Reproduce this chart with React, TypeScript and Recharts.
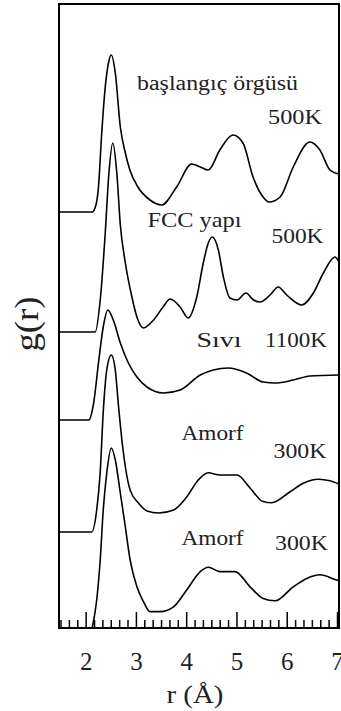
import React from "react";
import { LineChart, Line, XAxis, YAxis, ReferenceArea, ReferenceLine } from "recharts";

// x axis
const xDomain: [number, number] = [1.46, 7.03];
const majorTicks = [2, 3, 4, 5, 6, 7];
const minorTicks = [
  1.5, 1.667, 1.833, 2.167, 2.333, 2.5, 2.667, 2.833, 3.167, 3.333, 3.5, 3.667, 3.833,
  4.167, 4.333, 4.5, 4.667, 4.833, 5.167, 5.333, 5.5, 5.667, 5.833, 6.167, 6.333, 6.5,
  6.667, 6.833,
];
const yDomain: [number, number] = [0, 15.6];
// inward tick lengths in y units (1 unit = 40 px)
const majorTickLen = 0.4;
const minorTickLen = 0.2;

// curve 1: başlangıç örgüsü 500K
const baslangicR = [1.46, 2.12, 2.2, 2.245, 2.31, 2.38, 2.44, 2.5, 2.58, 2.68, 2.78, 2.87, 3.03, 3.27, 3.5, 3.8, 4.1, 4.27, 4.43, 4.66, 4.92, 5.12, 5.32, 5.52, 5.64, 5.86, 6.12, 6.45, 6.65, 6.85, 7.03];
const baslangicG = [0, 0, 0.2, 0.625, 1.975, 3.125, 3.7, 3.925, 3.475, 2.125, 1.475, 1.05, 0.625, 0.3, 0.175, 0.625, 1.2, 1.125, 1.05, 1.55, 1.925, 1.725, 0.875, 0.375, 0.25, 0.375, 1.125, 1.75, 1.55, 1.05, 0.95];

// curve 2: FCC yapı 500K
const fccR = [1.46, 2.18, 2.28, 2.38, 2.45, 2.53, 2.61, 2.68, 2.78, 2.91, 3.01, 3.14, 3.34, 3.53, 3.67, 3.87, 4.03, 4.2, 4.33, 4.43, 4.51, 4.63, 4.73, 4.86, 5.0, 5.18, 5.33, 5.46, 5.66, 5.82, 5.99, 6.29, 6.52, 6.72, 6.95, 7.03];
const fccG = [0, 0, 0.8, 2.475, 3.925, 4.725, 3.975, 2.675, 1.725, 0.875, 0.375, 0.1, 0.3, 0.625, 0.825, 0.625, 0.35, 0.875, 1.725, 2.225, 2.375, 2.05, 1.375, 0.85, 0.8, 0.975, 0.8, 0.75, 0.925, 1.125, 0.925, 0.675, 0.975, 1.475, 1.875, 1.75];

// curve 3: Sıvı 1100K
const siviR = [1.46, 2.05, 2.15, 2.245, 2.34, 2.43, 2.54, 2.68, 2.84, 3.01, 3.21, 3.54, 3.87, 4.27, 4.53, 4.83, 5.19, 5.52, 5.76, 6.12, 6.45, 7.03];
const siviG = [0, 0, 0.425, 1.425, 2.325, 2.75, 2.5, 1.925, 1.425, 1.075, 0.825, 0.675, 0.75, 1.125, 1.25, 1.3, 1.175, 0.95, 0.925, 1.0, 1.1, 1.125];

// curve 4: Amorf 300K (upper)
const amorf1R = [1.46, 2.11, 2.21, 2.28, 2.34, 2.41, 2.5, 2.58, 2.64, 2.72, 2.875, 3.04, 3.21, 3.44, 3.74, 4.0, 4.23, 4.43, 4.66, 5.0, 5.26, 5.52, 5.69, 6.05, 6.32, 6.62, 6.85, 7.03];
const amorf1G = [0, 0, 0.55, 1.5, 3.0, 4.05, 4.425, 4.05, 3.2, 2.2, 1.05, 0.725, 0.525, 0.475, 0.55, 0.875, 1.3, 1.48, 1.425, 1.425, 1.1, 0.76, 0.73, 1.0, 1.22, 1.32, 1.28, 1.2];

// curve 5: Amorf 300K (lower)
const amorf2R = [2.12, 2.21, 2.28, 2.34, 2.41, 2.5, 2.58, 2.68, 2.78, 2.875, 3.01, 3.14, 3.27, 3.47, 3.74, 4.0, 4.27, 4.43, 4.66, 4.96, 5.26, 5.52, 5.76, 6.12, 6.39, 6.65, 6.98, 7.03];
const amorf2G = [0, 0.7, 1.7, 2.95, 3.875, 4.5, 4.2, 3.375, 2.525, 1.7, 1.03, 0.66, 0.41, 0.41, 0.53, 0.95, 1.41, 1.52, 1.41, 1.41, 1.03, 0.74, 0.68, 1.03, 1.24, 1.33, 1.2, 1.18];

// vertical offsets of stacked curves
const offsets = [10.4, 7.4, 5.2, 2.4, 0];

const build = (r: number[], g: number[], off: number) =>
  r.map((x, i) => ({ r: x, y: g[i] + off }));

const series = [
  build(baslangicR, baslangicG, offsets[0]),
  build(fccR, fccG, offsets[1]),
  build(siviR, siviG, offsets[2]),
  build(amorf1R, amorf1G, offsets[3]),
  build(amorf2R, amorf2G, offsets[4]),
];

const FONT = "'Liberation Serif', 'Times New Roman', serif";

type Lbl = { t: string; cx: number; by: number; w: number; fs: number };
const labels: Lbl[] = [
  { t: "başlangıç örgüsü", cx: 217.5, by: 90, w: 161, fs: 20 },
  { t: "500K", cx: 295, by: 124, w: 54, fs: 21 },
  { t: "FCC yapı", cx: 194.5, by: 227, w: 94, fs: 21 },
  { t: "500K", cx: 297.5, by: 243, w: 52, fs: 21 },
  { t: "Sıvı", cx: 219, by: 347, w: 45, fs: 20 },
  { t: "1100K", cx: 296, by: 347, w: 62, fs: 21 },
  { t: "Amorf", cx: 212.5, by: 440, w: 62, fs: 21 },
  { t: "300K", cx: 300, by: 458, w: 53, fs: 21 },
  { t: "Amorf", cx: 212.5, by: 545, w: 62, fs: 21 },
  { t: "300K", cx: 301.5, by: 550, w: 53, fs: 21 },
];

const MainTick = (p: any) => (
  <text
    x={p.x}
    y={670}
    textAnchor="middle"
    fontFamily={FONT}
    fontSize={25}
    fill="#222"
  >
    {p.payload.value}
  </text>
);

export default function App() {
  return (
    <div style={{ position: "absolute", left: 0, top: 0, background: "#fff" }}>
      <LineChart
        width={341}
        height={711}
        margin={{ top: 4, right: 2, bottom: 43, left: 59 }}
      >
        <XAxis
          type="number"
          dataKey="r"
          domain={xDomain}
          allowDataOverflow
          ticks={majorTicks}
          interval={0}
          height={40}
          tickLine={false}
          axisLine={{ stroke: "#000", strokeWidth: 2 }}
          tick={<MainTick />}
        />
        <YAxis type="number" domain={yDomain} allowDataOverflow hide />
        <ReferenceArea
          x1={xDomain[0]}
          x2={xDomain[1]}
          y1={yDomain[0]}
          y2={yDomain[1]}
          fill="none"
          fillOpacity={0}
          stroke="#000"
          strokeWidth={2}
          ifOverflow="visible"
        />
        {minorTicks.map((t) => (
          <ReferenceLine
            key={"mn" + t}
            segment={[
              { x: t, y: yDomain[0] },
              { x: t, y: yDomain[0] + minorTickLen },
            ]}
            stroke="#000"
            strokeWidth={1.5}
            ifOverflow="visible"
          />
        ))}
        {majorTicks.map((t) => (
          <ReferenceLine
            key={"mj" + t}
            segment={[
              { x: t, y: yDomain[0] },
              { x: t, y: yDomain[0] + majorTickLen },
            ]}
            stroke="#000"
            strokeWidth={1.5}
            ifOverflow="visible"
          />
        ))}
        {series.map((d, i) => (
          <Line
            key={i}
            data={d}
            dataKey="y"
            type="monotone"
            stroke="#000"
            strokeWidth={1.6}
            dot={false}
            activeDot={false}
            isAnimationActive={false}
          />
        ))}
        {labels.map((l, i) => (
          <text
            key={"l" + i}
            x={l.cx}
            y={l.by}
            textAnchor="middle"
            fontFamily={FONT}
            fontSize={l.fs}
            fill="#222"
            textLength={l.w}
            lengthAdjust="spacingAndGlyphs"
          >
            {l.t}
          </text>
        ))}
        <text
          x={195}
          y={703}
          textAnchor="middle"
          fontFamily={FONT}
          fontSize={26}
          fill="#222"
          textLength={57}
          lengthAdjust="spacingAndGlyphs"
        >
          r (Å)
        </text>
        <text
          transform="translate(38,324) rotate(-90)"
          x={0}
          y={0}
          textAnchor="middle"
          fontFamily={FONT}
          fontSize={34}
          fill="#222"
          textLength={55}
          lengthAdjust="spacingAndGlyphs"
        >
          g(r)
        </text>
      </LineChart>
    </div>
  );
}
